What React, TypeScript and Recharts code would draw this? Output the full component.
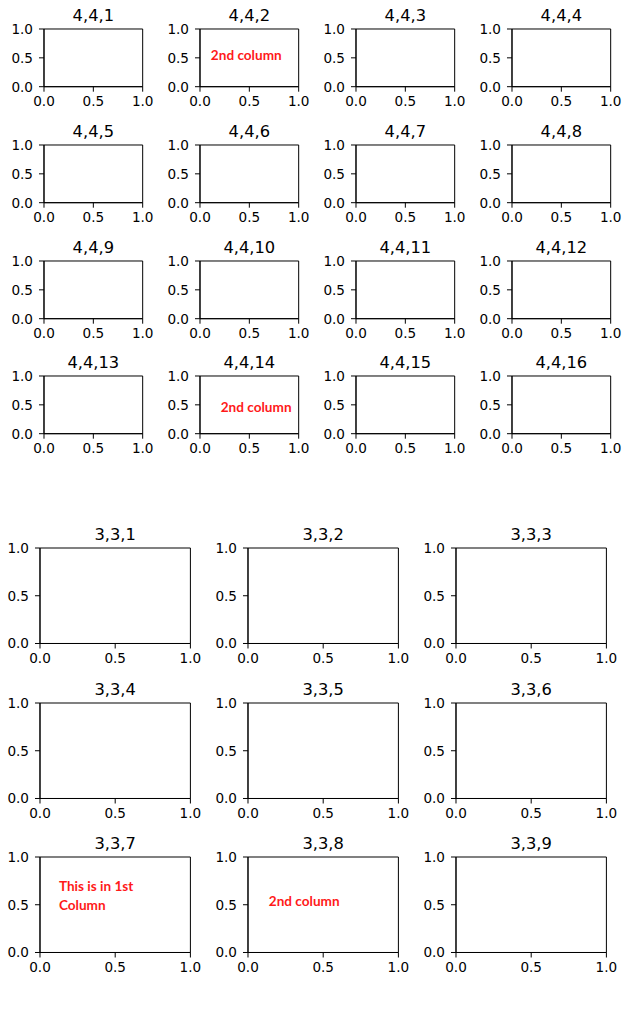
import React from 'react';
import { ScatterChart, Scatter, XAxis, YAxis, ReferenceArea, ReferenceDot } from 'recharts';

// ---- data ----
const axisTicks = [0, 0.5, 1];
const axisDomain: [number, number] = [0, 1];
const emptySeries: { x: number; y: number }[] = [];

const topTitles = [
  '4,4,1', '4,4,2', '4,4,3', '4,4,4',
  '4,4,5', '4,4,6', '4,4,7', '4,4,8',
  '4,4,9', '4,4,10', '4,4,11', '4,4,12',
  '4,4,13', '4,4,14', '4,4,15', '4,4,16',
];
const bottomTitles = [
  '3,3,1', '3,3,2', '3,3,3',
  '3,3,4', '3,3,5', '3,3,6',
  '3,3,7', '3,3,8', '3,3,9',
];

// annotations: panel index, data x, data y (baseline of first line), lines
const topNotePanels = [1, 13];
const topNoteX = [0.11, 0.21];
const topNoteY = [0.46, 0.37];
const topNoteLines = [['2nd column'], ['2nd column']];

const bottomNotePanels = [6, 7];
const bottomNoteX = [0.126, 0.138];
const bottomNoteY = [0.64, 0.49];
const bottomNoteLines = [['This is in 1st', 'Column'], ['2nd column']];

// ---- layout ----
const TOP_GRID = { cols: 4, left0: 44.3, dx: 156, top0: 29.3, dy: 115.6, w: 98.7, h: 57.7 };
const BOT_GRID = { cols: 3, left0: 40.3, dx: 208, top0: 548.3, dy: 154.5, w: 150.4, h: 95.5 };

const YW = 45;
const MT = 30;
const MR = 18;
const XH = 28;

const tickStyle = { fill: '#000', fontSize: 13.6, fontFamily: 'DejaVu Sans' };

type Note = { x: number; y: number; lines: string[] };

function Panel({ left, top, w, h, title, note }: { left: number; top: number; w: number; h: number; title: string; note?: Note }) {
  const cw = w + YW + MR;
  const ch = h + MT + XH;
  return (
    <div style={{ position: 'absolute', left: left - YW, top: top - MT, width: cw, height: ch }}>
      <ScatterChart width={cw} height={ch} margin={{ top: MT, right: MR, bottom: 0, left: 0 }}>
        <XAxis
          type="number"
          dataKey="x"
          domain={axisDomain}
          ticks={axisTicks}
          interval={0}
          allowDataOverflow
          height={XH}
          tick={tickStyle}
          tickFormatter={(v: number) => v.toFixed(1)}
          tickSize={5}
          tickMargin={5}
          axisLine={{ stroke: '#000', strokeWidth: 1 }}
          tickLine={{ stroke: '#000', strokeWidth: 1 }}
        />
        <YAxis
          type="number"
          dataKey="y"
          domain={axisDomain}
          ticks={axisTicks}
          interval={0}
          allowDataOverflow
          width={YW}
          tick={tickStyle}
          tickFormatter={(v: number) => v.toFixed(1)}
          tickSize={5}
          tickMargin={6}
          axisLine={{ stroke: '#000', strokeWidth: 1 }}
          tickLine={{ stroke: '#000', strokeWidth: 1 }}
        />
        <Scatter data={emptySeries} isAnimationActive={false} />
        <ReferenceArea
          x1={0}
          x2={1}
          y1={0}
          y2={1}
          fill="none"
          fillOpacity={0}
          stroke="#000"
          strokeWidth={1}
          ifOverflow="visible"
          label={{
            value: title,
            position: 'top',
            offset: 7.5,
            fill: '#000',
            fontSize: 16.3,
            fontFamily: 'DejaVu Sans',
          }}
        />
        {note && (
          <ReferenceDot
            x={note.x}
            y={note.y}
            r={0}
            fill="none"
            stroke="none"
            ifOverflow="visible"
            label={{
              content: (p: any) => {
                const vb = p.viewBox || {};
                return (
                  <text
                    x={vb.x}
                    y={vb.y}
                    fill="#ff1a1a"
                    fontSize={13.6}
                    fontWeight="bold"
                    fontFamily="Lato"
                  >
                    {note.lines.map((ln, i) => (
                      <tspan key={i} x={vb.x} dy={i === 0 ? 0 : 18.3}>
                        {ln}
                      </tspan>
                    ))}
                  </text>
                );
              },
            }}
          />
        )}
      </ScatterChart>
    </div>
  );
}

export default function App() {
  const panels: React.ReactNode[] = [];
  topTitles.forEach((t, i) => {
    const r = Math.floor(i / TOP_GRID.cols);
    const c = i % TOP_GRID.cols;
    const k = topNotePanels.indexOf(i);
    const note = k >= 0 ? { x: topNoteX[k], y: topNoteY[k], lines: topNoteLines[k] } : undefined;
    panels.push(
      <Panel
        key={'t' + i}
        left={TOP_GRID.left0 + c * TOP_GRID.dx}
        top={TOP_GRID.top0 + r * TOP_GRID.dy}
        w={TOP_GRID.w}
        h={TOP_GRID.h}
        title={t}
        note={note}
      />
    );
  });
  bottomTitles.forEach((t, i) => {
    const r = Math.floor(i / BOT_GRID.cols);
    const c = i % BOT_GRID.cols;
    const k = bottomNotePanels.indexOf(i);
    const note = k >= 0 ? { x: bottomNoteX[k], y: bottomNoteY[k], lines: bottomNoteLines[k] } : undefined;
    panels.push(
      <Panel
        key={'b' + i}
        left={BOT_GRID.left0 + c * BOT_GRID.dx}
        top={BOT_GRID.top0 + r * BOT_GRID.dy}
        w={BOT_GRID.w}
        h={BOT_GRID.h}
        title={t}
        note={note}
      />
    );
  });
  return (
    <div style={{ position: 'absolute', left: 0, top: 0, width: 636, height: 1016, background: '#fff', overflow: 'hidden' }}>
      {panels}
    </div>
  );
}
